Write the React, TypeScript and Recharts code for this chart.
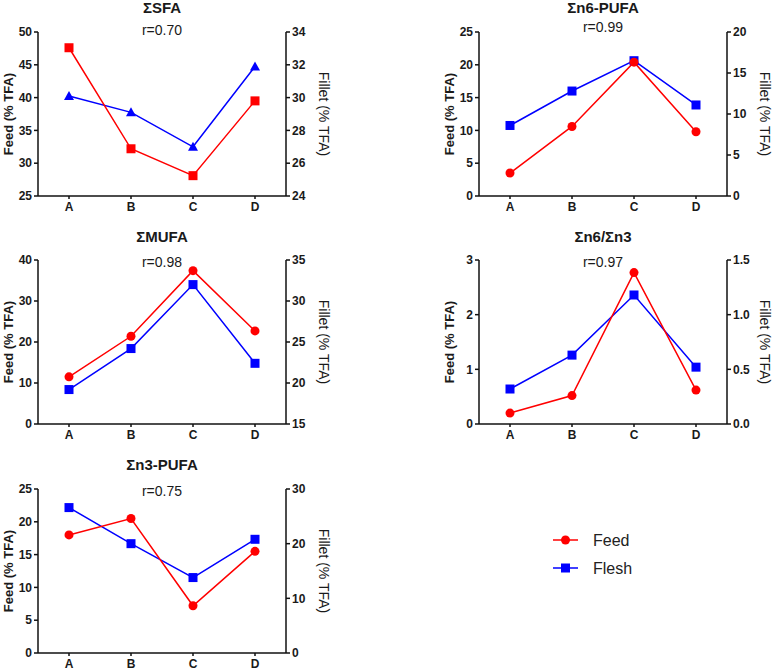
import { Line, LineChart, XAxis, YAxis } from "recharts";

const categories = ["A", "B", "C", "D"];

const sfaFeed = [47.6, 32.2, 28.1, 39.5];
const sfaFillet = [30.1, 29.1, 27.0, 31.9];
const n6Feed = [3.5, 10.6, 20.4, 9.8];
const n6Fillet = [8.6, 12.8, 16.5, 11.1];
const mufaFeed = [11.5, 21.4, 37.4, 22.7];
const mufaFillet = [19.2, 24.2, 32.0, 22.4];
const ratioFeed = [0.2, 0.52, 2.77, 0.62];
const ratioFillet = [0.32, 0.63, 1.18, 0.52];
const n3Feed = [18.0, 20.5, 7.2, 15.5];
const n3Fillet = [26.6, 20.0, 13.8, 20.8];

const sfaFeedTicks = [25, 30, 35, 40, 45, 50];
const sfaFilletTicks = [24, 26, 28, 30, 32, 34];
const n6FeedTicks = [0, 5, 10, 15, 20, 25];
const n6FilletTicks = [0, 5, 10, 15, 20];
const mufaFeedTicks = [0, 10, 20, 30, 40];
const mufaFilletTicks = [15, 20, 25, 30, 35];
const ratioFeedTicks = [0, 1, 2, 3];
const ratioFilletTicks = [0, 0.5, 1.0, 1.5];
const n3FeedTicks = [0, 5, 10, 15, 20, 25];
const n3FilletTicks = [0, 10, 20, 30];

const RED = "#ff0000";
const BLUE = "#0000ff";
const FONT = "'Liberation Sans', Arial, sans-serif";

const PLOT_W = 248;
const PLOT_H = 164;
const LEFT_W = 38;
const RIGHT_W = 48;
const TOP = 32;
const BOTTOM = 30;

type Shape = "circle" | "square" | "triangle";

type PanelSpec = {
  title: string;
  r: string;
  plotLeft: number;
  plotTop: number;
  titleY: number;
  rY: number;
  feed: number[];
  fillet: number[];
  feedTicks: number[];
  filletTicks: number[];
  filletDecimals?: number;
  feedShape: Shape;
  filletShape: Shape;
};

const panels: PanelSpec[] = [
  {
    title: "ΣSFA", r: "r=0.70", plotLeft: 38, plotTop: 32, titleY: 8, rY: 30,
    feed: sfaFeed, fillet: sfaFillet, feedTicks: sfaFeedTicks, filletTicks: sfaFilletTicks,
    feedShape: "square", filletShape: "triangle",
  },
  {
    title: "Σn6-PUFA", r: "r=0.99", plotLeft: 479, plotTop: 32, titleY: 8, rY: 27,
    feed: n6Feed, fillet: n6Fillet, feedTicks: n6FeedTicks, filletTicks: n6FilletTicks,
    feedShape: "circle", filletShape: "square",
  },
  {
    title: "ΣMUFA", r: "r=0.98", plotLeft: 38, plotTop: 260, titleY: 237, rY: 262,
    feed: mufaFeed, fillet: mufaFillet, feedTicks: mufaFeedTicks, filletTicks: mufaFilletTicks,
    feedShape: "circle", filletShape: "square",
  },
  {
    title: "Σn6/Σn3", r: "r=0.97", plotLeft: 479, plotTop: 260, titleY: 237, rY: 262,
    feed: ratioFeed, fillet: ratioFillet, feedTicks: ratioFeedTicks, filletTicks: ratioFilletTicks,
    filletDecimals: 1, feedShape: "circle", filletShape: "square",
  },
  {
    title: "Σn3-PUFA", r: "r=0.75", plotLeft: 38, plotTop: 489, titleY: 465, rY: 491,
    feed: n3Feed, fillet: n3Fillet, feedTicks: n3FeedTicks, filletTicks: n3FilletTicks,
    feedShape: "circle", filletShape: "square",
  },
];

function markerDot(shape: Shape, color: string) {
  return (props: any) => {
    const { cx, cy, index } = props;
    const key = `dot-${index}`;
    if (cx == null || cy == null) return <g key={key} />;
    if (shape === "circle") return <circle key={key} cx={cx} cy={cy} r={4.5} fill={color} />;
    if (shape === "square")
      return <rect key={key} x={cx - 4.5} y={cy - 4.5} width={9} height={9} fill={color} />;
    return (
      <polygon
        key={key}
        points={`${cx},${cy - 5} ${cx - 5},${cy + 4} ${cx + 5},${cy + 4}`}
        fill={color}
      />
    );
  };
}

const tickStyle = { fontSize: 12, fontWeight: 700, fill: "#1a1a1a", fontFamily: FONT };
const axisLine = { stroke: "#111", strokeWidth: 1.5 };

function Panel({ spec }: { spec: PanelSpec }) {
  const data = categories.map((cat, i) => ({ cat, feed: spec.feed[i], fillet: spec.fillet[i] }));
  const feedDomain = [spec.feedTicks[0], spec.feedTicks[spec.feedTicks.length - 1]];
  const filletDomain = [spec.filletTicks[0], spec.filletTicks[spec.filletTicks.length - 1]];
  const fmt = (v: number) => (spec.filletDecimals ? v.toFixed(spec.filletDecimals) : String(v));
  const centerX = spec.plotLeft + PLOT_W / 2;

  return (
    <>
      <div
        style={{
          position: "absolute", left: centerX - 100, width: 200, top: spec.titleY - 8,
          textAlign: "center", fontFamily: FONT, fontWeight: 700, fontSize: 15, lineHeight: "16px",
          color: "#1a1a1a",
        }}
      >
        {spec.title}
      </div>
      <div
        style={{
          position: "absolute", left: centerX - 100, width: 200, top: spec.rY - 9,
          textAlign: "center", fontFamily: FONT, fontSize: 14, lineHeight: "18px", color: "#1a1a1a",
        }}
      >
        {spec.r}
      </div>
      <div style={{ position: "absolute", left: spec.plotLeft - LEFT_W, top: spec.plotTop - TOP }}>
        <LineChart
          width={LEFT_W + PLOT_W + RIGHT_W}
          height={TOP + PLOT_H + BOTTOM}
          data={data}
          margin={{ top: TOP, right: 0, bottom: 0, left: 0 }}
        >
          <XAxis
            dataKey="cat"
            scale="band"
            height={BOTTOM}
            tickSize={3}
            tickMargin={3}
            tick={tickStyle}
            axisLine={axisLine}
            tickLine={axisLine}
          />
          <YAxis
            yAxisId="feed"
            orientation="left"
            width={LEFT_W}
            domain={feedDomain}
            ticks={spec.feedTicks}
            interval={0}
            allowDataOverflow
            tickSize={4}
            tick={tickStyle}
            axisLine={axisLine}
            tickLine={axisLine}
            label={{
              value: "Feed (% TFA)",
              angle: -90,
              position: "insideLeft",
              offset: 8,
              style: { textAnchor: "middle", fontSize: 13, fontWeight: 700, fill: "#1a1a1a", fontFamily: FONT },
            }}
          />
          <YAxis
            yAxisId="fillet"
            orientation="right"
            width={RIGHT_W}
            domain={filletDomain}
            ticks={spec.filletTicks}
            tickFormatter={fmt}
            interval={0}
            allowDataOverflow
            tickSize={4}
            tick={tickStyle}
            axisLine={axisLine}
            tickLine={axisLine}
            label={{
              value: "Fillet (% TFA)",
              angle: 90,
              position: "insideRight",
              offset: 10,
              style: { textAnchor: "middle", fontSize: 14, fill: "#1a1a1a", fontFamily: FONT },
            }}
          />
          <Line
            yAxisId="fillet"
            dataKey="fillet"
            type="linear"
            stroke={BLUE}
            strokeWidth={1.5}
            dot={markerDot(spec.filletShape, BLUE)}
            activeDot={false}
            isAnimationActive={false}
          />
          <Line
            yAxisId="feed"
            dataKey="feed"
            type="linear"
            stroke={RED}
            strokeWidth={1.5}
            dot={markerDot(spec.feedShape, RED)}
            activeDot={false}
            isAnimationActive={false}
          />
        </LineChart>
      </div>
    </>
  );
}

function LegendBlock() {
  const items = [
    { label: "Feed", color: RED, shape: "circle" as Shape, y: 540 },
    { label: "Flesh", color: BLUE, shape: "square" as Shape, y: 568 },
  ];
  return (
    <svg
      width={200}
      height={60}
      style={{ position: "absolute", left: 540, top: 525 }}
    >
      {items.map((it) => {
        const y = it.y - 525;
        return (
          <g key={it.label}>
            <line x1={13} x2={38} y1={y} y2={y} stroke={it.color} strokeWidth={1.5} />
            {it.shape === "circle" ? (
              <circle cx={25.5} cy={y} r={4.5} fill={it.color} />
            ) : (
              <rect x={21} y={y - 4.5} width={9} height={9} fill={it.color} />
            )}
            <text
              x={53}
              y={y}
              dominantBaseline="central"
              fontFamily={FONT}
              fontSize={16}
              fill="#222"
            >
              {it.label}
            </text>
          </g>
        );
      })}
    </svg>
  );
}

export default function App() {
  return (
    <div
      style={{
        position: "absolute", left: 0, top: 0, width: 775, height: 671,
        background: "#fff", overflow: "hidden",
      }}
    >
      {panels.map((p) => (
        <Panel key={p.title} spec={p} />
      ))}
      <LegendBlock />
    </div>
  );
}
